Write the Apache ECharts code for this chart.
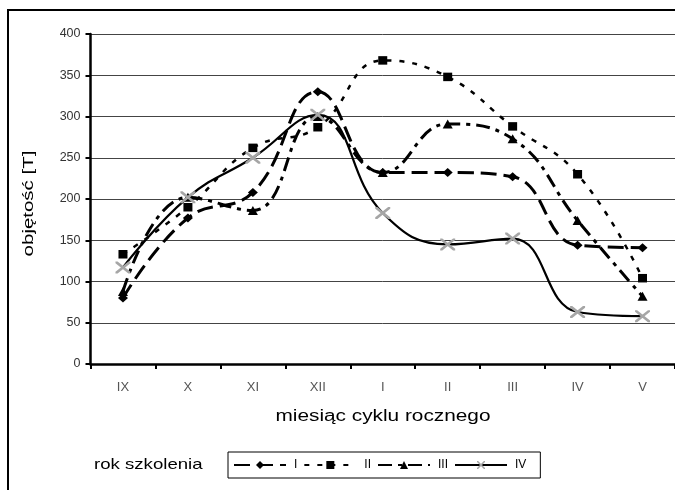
<!DOCTYPE html>
<html>
<head>
<meta charset="utf-8">
<script src="https://cdn.jsdelivr.net/npm/echarts@6/dist/echarts.min.js"></script>
<style>
  html, body { margin: 0; padding: 0; background: #fff; }
  #chart { width: 675px; height: 490px; }
</style>
</head>
<body>
<div id="chart"></div>
<script>
// Months of the training cycle (September to May)
const months = ['IX', 'X', 'XI', 'XII', 'I', 'II', 'III', 'IV', 'V'];

// Training volume [T] per year of training
const yearNames = ['I', 'II', 'III', 'IV'];
const year1 = [80, 177, 208, 330, 232, 232, 227, 144, 141];
const year2 = [133, 190, 262, 287, 368, 348, 288, 230, 104];
const year3 = [88, 202, 186, 300, 232, 291, 273, 174, 82];
const year4 = [117, 202, 250, 302, 183, 145, 152, 63, 58];

// Value axis range
const yMin = 0;
const yMax = 400;
const yStep = 50;

const FONT = '"Liberation Sans", Arial, sans-serif';

// Cross marker drawn as two filled bars
const crossPath = 'path://M0,0 L1.4,0 L10,8.6 L10,10 L8.6,10 L0,1.4 Z M10,0 L10,1.4 L1.4,10 L0,10 L0,8.6 L8.6,0 Z';

const styles = [
  { symbol: 'diamond', size: [10, 9], color: '#000', width: 3, dash: [16, 7] },
  { symbol: 'rect', size: [9, 8.5], color: '#000', width: 2.5, dash: [5, 8] },
  { symbol: 'triangle', size: [10, 9], color: '#000', width: 3, dash: [14, 6, 4, 6] },
  { symbol: crossPath, size: [15, 12], color: '#a6a6a6', width: 2.2, dash: 'solid' }
];
const values = [year1, year2, year3, year4];

const series = yearNames.map((name, i) => ({
  name: name,
  type: 'line',
  data: values[i],
  smooth: 0.45,
  symbol: styles[i].symbol,
  symbolSize: styles[i].size,
  symbolKeepAspect: false,
  showSymbol: true,
  itemStyle: { color: styles[i].color, borderWidth: 0 },
  lineStyle: { color: '#000', width: styles[i].width, type: styles[i].dash },
  emphasis: { disabled: true },
  z: 2 + i
}));

const chart = echarts.init(document.getElementById('chart'), null, { renderer: 'canvas' });
chart.setOption({
  animation: false,
  backgroundColor: '#fff',
  grid: { left: 90.5, right: 0, top: 34, bottom: 126, containLabel: false },
  xAxis: {
    type: 'category',
    data: months,
    boundaryGap: true,
    axisLine: { lineStyle: { color: '#000', width: 2.5 } },
    axisTick: { show: true, length: 5, lineStyle: { color: '#000', width: 2 } },
    axisLabel: { color: '#555', fontSize: 13, fontFamily: FONT, margin: 17 },
    splitLine: { show: false }
  },
  yAxis: {
    type: 'value',
    min: yMin,
    max: yMax,
    interval: yStep,
    axisLine: { show: true, lineStyle: { color: '#000', width: 2.5 } },
    axisTick: { show: true, length: 5, lineStyle: { color: '#000', width: 2 } },
    axisLabel: { color: '#333', fontSize: 12.5, fontFamily: FONT, margin: 10 },
    splitLine: { show: true, lineStyle: { color: '#444', width: 1 } }
  },
  legend: {
    data: yearNames,
    left: 228,
    top: 452,
    orient: 'horizontal',
    borderColor: '#000',
    borderWidth: 1,
    padding: [7, 14, 7, 5],
    itemWidth: 52,
    itemHeight: 10,
    itemGap: 6,
    textStyle: { color: '#000', fontSize: 12, fontFamily: FONT, padding: [0, 0, 0, 3] }
  },
  graphic: [
    {
      type: 'rect',
      silent: true,
      shape: { x: 8, y: 10, width: 700, height: 500 },
      style: { fill: 'none', stroke: '#000', lineWidth: 2 }
    },
    {
      type: 'text',
      x: 28.5, y: 203.5,
      rotation: Math.PI / 2,
      scaleX: 1.32,
      style: {
        text: 'objętość [T]', font: '15.5px ' + FONT, fill: '#000',
        textAlign: 'center', textVerticalAlign: 'middle', align: 'center', verticalAlign: 'middle'
      }
    },
    {
      type: 'text',
      x: 383, y: 417,
      scaleX: 1.3,
      style: {
        text: 'miesiąc cyklu rocznego', font: '16px ' + FONT, fill: '#000',
        textAlign: 'center', textVerticalAlign: 'middle', align: 'center', verticalAlign: 'middle'
      }
    },
    {
      type: 'text',
      x: 94, y: 465,
      scaleX: 1.24,
      style: {
        text: 'rok szkolenia', font: '15px ' + FONT, fill: '#000',
        textAlign: 'left', textVerticalAlign: 'middle', align: 'left', verticalAlign: 'middle'
      }
    }
  ],
  series: series
});
</script>
</body>
</html>
